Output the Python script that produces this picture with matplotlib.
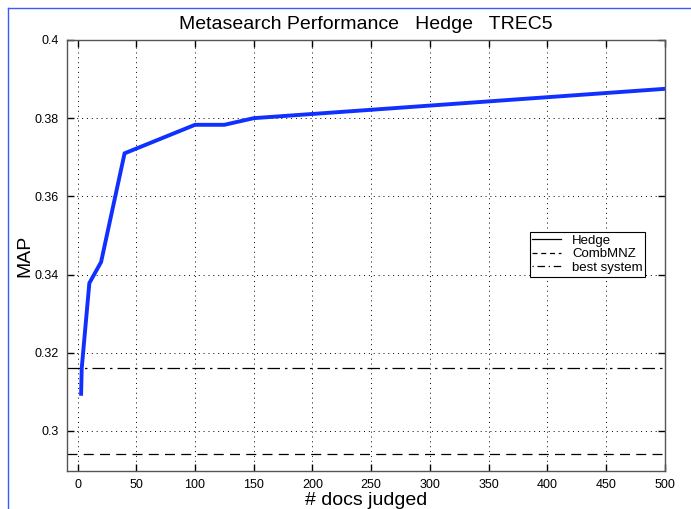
import matplotlib
import matplotlib.pyplot as plt
from matplotlib.lines import Line2D

matplotlib.use('Agg')

plt.rcParams['font.family'] = ['Liberation Sans', 'DejaVu Sans']

docs_judged = [3, 3.5, 10, 20, 40, 100, 125, 150, 500]
hedge_map = [0.3095, 0.316, 0.3378, 0.3432, 0.371, 0.3783, 0.3783, 0.380, 0.3875]
combmnz_map = 0.294
best_system_map = 0.316

x_ticks = list(range(0, 501, 50))
y_ticks = [0.30, 0.32, 0.34, 0.36, 0.38, 0.40]
y_labels = ['0.3', '0.32', '0.34', '0.36', '0.38', '0.4']

fig = plt.figure(figsize=(6.91, 5.09), dpi=100)
ax = fig.add_axes([0.097, 0.075, 0.865, 0.8465])

ax.plot(docs_judged, hedge_map, color='#1030ff', lw=2.8, label='Hedge',
        solid_joinstyle='miter')
ax.axhline(combmnz_map, color='black', lw=0.9, ls=(0, (8, 5)), label='CombMNZ')
ax.axhline(best_system_map, color='black', lw=0.9, ls=(0, (10, 4, 2, 4)),
           label='best system')

ax.set_xlim(-9, 500)
ax.set_ylim(0.2898, 0.4)
ax.set_xticks(x_ticks)
ax.set_yticks(y_ticks)
ax.set_yticklabels(y_labels)
ax.tick_params(direction='in', top=True, right=True, labelsize=9,
               length=5, width=1, color='black', pad=6)
ax.grid(True, color='black', ls=(0, (1, 4)), lw=0.7)

for s in ax.spines.values():
    s.set_color('#555555')
    s.set_linewidth(1.0)

ax.set_title('Metasearch Performance   Hedge   TREC5', fontsize=14, pad=8)
ax.set_xlabel('# docs judged', fontsize=14)
ax.xaxis.set_label_coords(0.5, -0.048)
ax.set_ylabel('MAP', fontsize=14)
ax.yaxis.set_label_coords(-0.057, 0.5)

handles = [
    Line2D([], [], color='black', lw=0.9),
    Line2D([], [], color='black', lw=0.9, ls=(0, (4, 3))),
    Line2D([], [], color='black', lw=0.9, ls=(0, (1, 3, 6, 3))),
]
leg = ax.legend(handles, ['Hedge', 'CombMNZ', 'best system'],
                loc='upper left', bbox_to_anchor=(0.774, 0.5545),
                fontsize=9.5, fancybox=False, framealpha=1, edgecolor='black',
                handlelength=2.2, borderpad=0.2, labelspacing=0.1,
                handletextpad=0.8, borderaxespad=0)
leg.get_frame().set_linewidth(0.8)

# thin blue frame on the page (left and top edges visible)
fig.add_artist(Line2D([8 / 691, 8 / 691], [0, 1 - 8 / 509],
                      transform=fig.transFigure, color='#3a5cf0', lw=1.0))
fig.add_artist(Line2D([8 / 691, 1], [1 - 8 / 509, 1 - 8 / 509],
                      transform=fig.transFigure, color='#3a5cf0', lw=1.0))

plt.savefig('out.png', dpi=100)
